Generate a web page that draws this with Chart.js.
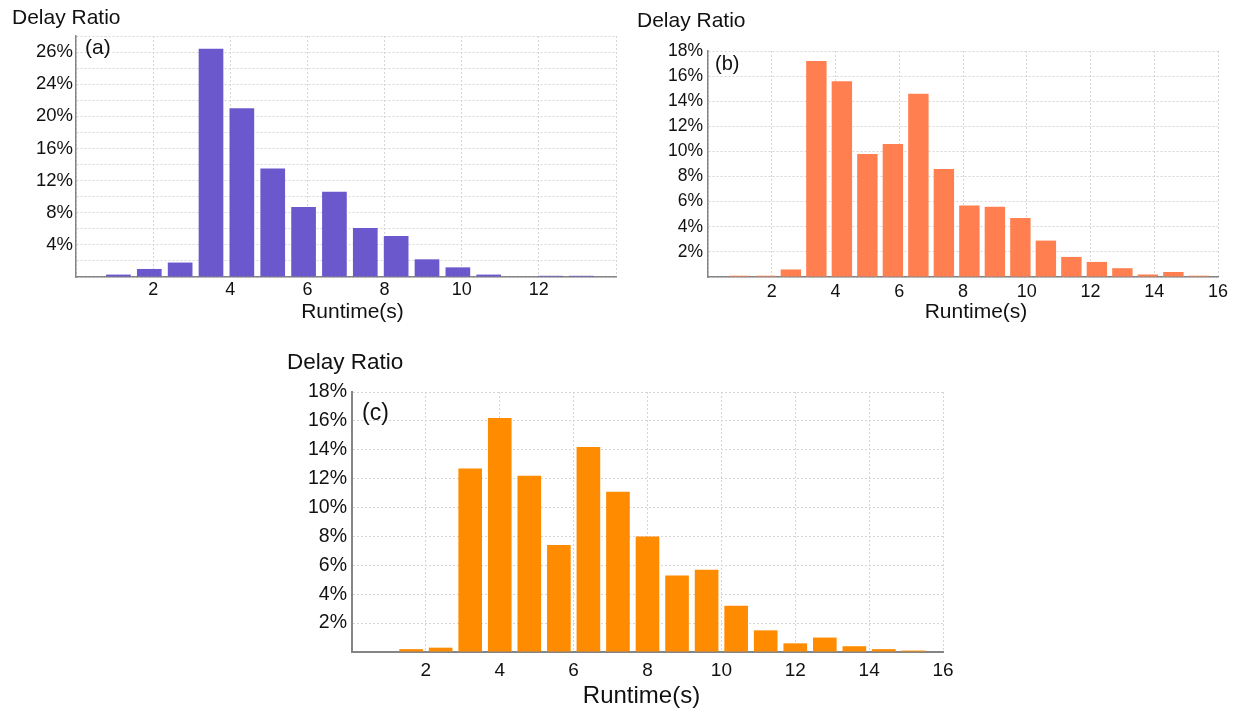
<!DOCTYPE html>
<html>
<head>
<meta charset="utf-8">
<title>Delay Ratio by Runtime</title>
<script src="https://cdn.jsdelivr.net/npm/chart.js@4.4.1/dist/chart.umd.min.js"></script>
<style>
  html, body { margin: 0; padding: 0; background: #ffffff; }
  body { width: 1237px; height: 711px; position: relative; overflow: hidden; }
  .panel { position: absolute; }
  #wrapA { left: 0; top: 0; width: 640px; height: 330px; }
  #wrapB { left: 630px; top: 0; width: 607px; height: 330px; }
  #wrapC { left: 270px; top: 340px; width: 700px; height: 371px; }
</style>
</head>
<body>
<div class="panel" id="wrapA"><canvas id="chartA"></canvas></div>
<div class="panel" id="wrapB"><canvas id="chartB"></canvas></div>
<div class="panel" id="wrapC"><canvas id="chartC"></canvas></div>
<script>
// ---- data: runtime bin centres (s) and delay ratio (%) ----
const runtimeA = [1.1, 1.9, 2.7, 3.5, 4.3, 5.1, 5.9, 6.7, 7.5, 8.3, 9.1, 9.9, 10.7, 11.5, 12.3, 13.1];
const ratioA   = [0.3, 1.0, 1.8, 28.4, 21.0, 13.5, 8.7, 10.6, 6.1, 5.1, 2.2, 1.2, 0.3, 0, 0.15, 0.15];

const runtimeB = [1.0, 1.8, 2.6, 3.4, 4.2, 5.0, 5.8, 6.6, 7.4, 8.2, 9.0, 9.8, 10.6, 11.4, 12.2, 13.0, 13.8, 14.6, 15.4];
const ratioB   = [0.1, 0.1, 0.6, 17.2, 15.6, 9.8, 10.6, 14.6, 8.6, 5.7, 5.6, 4.7, 2.9, 1.6, 1.2, 0.7, 0.2, 0.4, 0.1];

const runtimeC = [1.6, 2.4, 3.2, 4.0, 4.8, 5.6, 6.4, 7.2, 8.0, 8.8, 9.6, 10.4, 11.2, 12.0, 12.8, 13.6, 14.4, 15.2];
const ratioC   = [0.2, 0.3, 12.7, 16.2, 12.2, 7.4, 14.2, 11.1, 8.0, 5.3, 5.7, 3.2, 1.5, 0.6, 1.0, 0.4, 0.2, 0.1];

// ---- tick labels ----
const yTickValuesA = [4, 8, 12, 16, 20, 24, 28];
const yTickLabelsA = ['4%', '8%', '12%', '16%', '20%', '24%', '26%'];
const yTickValuesBC = [2, 4, 6, 8, 10, 12, 14, 16, 18];
const yTickLabelsBC = ['2%', '4%', '6%', '8%', '10%', '12%', '14%', '16%', '18%'];
const xTickLabelsA = [2, 4, 6, 8, 10, 12];
const xTickLabelsBC = [2, 4, 6, 8, 10, 12, 14, 16];

const FONT = '"Liberation Sans", Arial, Helvetica, sans-serif';

// Axis captions ("Delay Ratio" above the value axis, "Runtime(s)" under the
// runtime axis) and the panel tag inside the plot area
const panelText = {
  id: 'panelText',
  afterDraw(chart, args, o) {
    const { ctx, chartArea } = chart;
    ctx.save();
    ctx.fillStyle = '#111111';
    ctx.textBaseline = 'middle';
    ctx.textAlign = 'left';
    ctx.font = o.captionSize + 'px ' + FONT;
    ctx.fillText(o.caption, o.captionX, o.captionY);
    ctx.font = o.tagSize + 'px ' + FONT;
    ctx.fillText(o.tag, chartArea.left + o.tagDX, chartArea.top + o.tagDY);
    ctx.textAlign = 'center';
    ctx.font = o.xTitleSize + 'px ' + FONT;
    ctx.fillText(o.xTitle, (chartArea.left + chartArea.right) / 2 + o.xTitleDX, o.xTitleY);
    ctx.restore();
  }
};

function makeChart(id, cfg) {
  const points = cfg.xs.map((x, i) => ({ x: x, y: cfg.ys[i] }));
  return new Chart(document.getElementById(id), {
    type: 'bar',
    data: {
      datasets: [{
        data: points,
        backgroundColor: cfg.color,
        borderWidth: 0,
        categoryPercentage: 0.8,
        barPercentage: 1.0
      }]
    },
    options: {
      responsive: true,
      maintainAspectRatio: false,
      animation: false,
      events: [],
      layout: { padding: cfg.padding },
      plugins: {
        legend: { display: false },
        tooltip: { enabled: false },
        panelText: cfg.text
      },
      scales: {
        x: {
          type: 'linear',
          min: 0,
          max: cfg.xMax,
          offset: false,
          afterFit: (s) => { s.height = cfg.xHeight; },
          grid: { offset: false, color: '#d6d6d6', lineWidth: 1, drawTicks: false },
          border: { display: true, color: '#858585', width: cfg.axisWidth, dash: [2, 2] },
          ticks: {
            stepSize: 2,
            autoSkip: false,
            maxRotation: 0,
            padding: cfg.xTickPad,
            color: '#111111',
            font: { family: FONT, size: cfg.xTickSize },
            callback: (v) => (cfg.xLabels.includes(v) ? String(v) : '')
          }
        },
        y: {
          type: 'linear',
          min: 0,
          max: cfg.yMax,
          afterFit: (s) => { s.width = cfg.yWidth; },
          grid: { color: '#d6d6d6', lineWidth: 1, drawTicks: false },
          border: { display: true, color: '#858585', width: cfg.axisWidth, dash: [2, 2] },
          ticks: {
            stepSize: 2,
            autoSkip: false,
            padding: cfg.yTickPad,
            color: '#111111',
            font: { family: FONT, size: cfg.yTickSize },
            callback: (v) => {
              const i = cfg.yValues.indexOf(v);
              return i >= 0 ? cfg.yLabels[i] : '';
            }
          }
        }
      }
    },
    plugins: [panelText]
  });
}

makeChart('chartA', {
  xs: runtimeA, ys: ratioA, color: '#6a58cc',
  xMax: 14, yMax: 30,
  xLabels: xTickLabelsA, yValues: yTickValuesA, yLabels: yTickLabelsA,
  padding: { left: 0, top: 36, right: 24, bottom: 0 },
  xHeight: 53, yWidth: 76, axisWidth: 1.5,
  xTickPad: 2, xTickSize: 18, yTickPad: 3, yTickSize: 18.5,
  text: { caption: 'Delay Ratio', captionSize: 21, captionX: 12, captionY: 18.5,
          tag: '(a)', tagSize: 21, tagDX: 9, tagDY: 12,
          xTitle: 'Runtime(s)', xTitleSize: 21, xTitleDX: 6.5, xTitleY: 312 }
});

makeChart('chartB', {
  xs: runtimeB, ys: ratioB, color: '#ff7f50',
  xMax: 16, yMax: 18,
  xLabels: xTickLabelsBC, yValues: yTickValuesBC, yLabels: yTickLabelsBC,
  padding: { left: 0, top: 51, right: 19, bottom: 0 },
  xHeight: 53, yWidth: 78, axisWidth: 1.5,
  xTickPad: 4, xTickSize: 18, yTickPad: 5, yTickSize: 17.5,
  text: { caption: 'Delay Ratio', captionSize: 21, captionX: 7, captionY: 21,
          tag: '(b)', tagSize: 20, tagDX: 7, tagDY: 13,
          xTitle: 'Runtime(s)', xTitleSize: 21, xTitleDX: 13, xTitleY: 312 }
});

makeChart('chartC', {
  xs: runtimeC, ys: ratioC, color: '#ff8c00',
  xMax: 16, yMax: 18,
  xLabels: xTickLabelsBC, yValues: yTickValuesBC, yLabels: yTickLabelsBC,
  padding: { left: 0, top: 52, right: 27, bottom: 0 },
  xHeight: 59, yWidth: 82, axisWidth: 2,
  xTickPad: 7, xTickSize: 19, yTickPad: 5, yTickSize: 19.5,
  text: { caption: 'Delay Ratio', captionSize: 22.5, captionX: 17, captionY: 22.5,
          tag: '(c)', tagSize: 23, tagDX: 10, tagDY: 22,
          xTitle: 'Runtime(s)', xTitleSize: 24, xTitleDX: -6, xTitleY: 356.5 }
});
</script>
</body>
</html>
